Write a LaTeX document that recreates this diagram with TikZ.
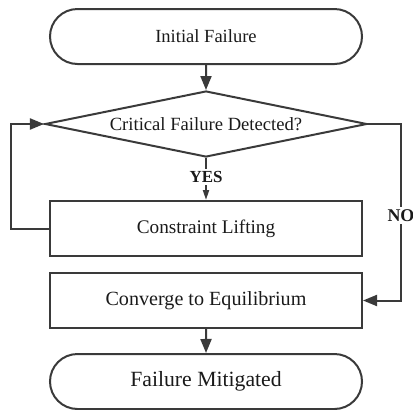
\documentclass[tikz,border=0pt]{standalone}
\usepackage{fontspec}
\setmainfont{Liberation Serif}
\usetikzlibrary{shapes.geometric,shapes.misc,arrows.meta}
\definecolor{ln}{HTML}{3A3A3A}
\definecolor{tx}{HTML}{1A1A1A}
\tikzset{
  base/.style={draw=ln, line width=2bp, text=tx, inner sep=0pt},
  term/.style={base, rounded rectangle, minimum width=312bp, minimum height=55bp},
  procbox/.style={base, rectangle, minimum width=312bp, minimum height=55bp},
  decide/.style={base, diamond, aspect=4.88, minimum width=322bp, minimum height=66bp},
  conn/.style={draw=ln, line width=2bp, -{Triangle[length=14bp,width=11bp]}},
  smallconn/.style={draw=ln, line width=2bp, -{Triangle[length=10bp,width=6bp]}},
  lbl/.style={fill=white, text=tx, font=\bfseries, inner sep=2bp},
}
\begin{document}
\begin{tikzpicture}[x=1bp,y=-1bp]
\useasboundingbox (0,0) rectangle (413,410);
\node[term, font=\fontsize{18.6}{22}\selectfont] (init) at (206,36.5) {Initial Failure};
\node[decide, font=\fontsize{18.7}{22}\selectfont] (dia) at (206,124) {Critical Failure Detected?};
\node[procbox, font=\fontsize{19.3}{23}\selectfont] (lift) at (206,228.5) {Constraint Lifting};
\node[procbox, font=\fontsize{20.2}{24}\selectfont] (conv) at (206,300.5) {Converge to Equilibrium};
\node[term, font=\fontsize{21.8}{26}\selectfont] (fin) at (206,381.5) {Failure Mitigated};
\coordinate (loopc) at (11,228.5);
\coordinate (noc) at (401,124);
\draw[conn] (init) -- (dia.north);
\draw[smallconn] (dia.south) -- (lift.north);
\node[lbl, font=\fontsize{17}{20}\selectfont\bfseries] (yes) at (206,177) {YES};
\draw[conn] (lift.west) -- (loopc) |- (dia.west);
\draw[conn] (dia.east) -- (noc) |- (conv.east);
\node[lbl, font=\fontsize{18}{21}\selectfont\bfseries] (no) at (401,215.5) {NO};
\draw[conn] (conv) -- (fin);
\end{tikzpicture}
\end{document}
